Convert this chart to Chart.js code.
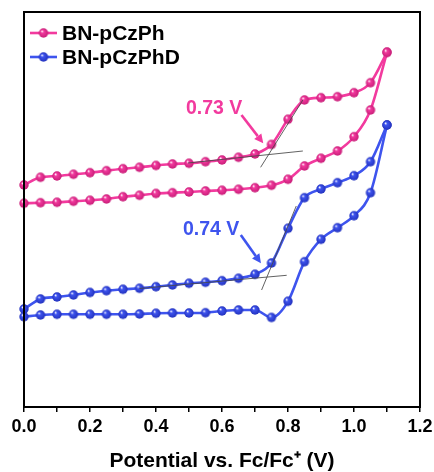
<!DOCTYPE html>
<html>
<head>
<meta charset="utf-8">
<script src="https://cdn.jsdelivr.net/npm/chart.js@4/dist/chart.umd.min.js"></script>
<style>
html,body{margin:0;padding:0;background:#fff;}
#wrap{width:434px;height:472px;position:relative;}
</style>
</head>
<body>
<div id="wrap"><canvas id="c" width="434" height="472"></canvas></div>
<script>
// ---- data (potential in V, current in arbitrary units) ----
const potentials = [0,0.05,0.1,0.15,0.2,0.25,0.3,0.35,0.4,0.45,0.5,0.55,0.6,0.65,0.7,0.75,0.8,0.85,0.9,0.95,1.0,1.05,1.1];
const pinkForward = [222,229.7,231,232.7,234.3,236.3,238.3,239.7,241.5,243,243.7,245.3,247,249.7,253,262.5,287.7,307,309.3,310.3,314.3,324.3,354.7];
const pinkReverse = [203.7,204.3,204.7,205.7,206.7,208,210.3,211.7,213.5,214.3,215,216,216.7,217.7,219.3,221.7,227.7,241,248.7,256,270.3,297,354.7];
const blueForward = [98,108,110,112,114.5,116.3,117.7,118.7,120.3,122,123.7,124.7,126.3,128.7,132.7,144,178.7,209.3,218,224.3,231.3,245.3,282];
const blueReverse = [90.3,92,92.7,92.7,92.7,92.7,92.7,93,93.7,94,94,94.3,96,97,97,89.5,105.7,145.3,167.7,179.3,191.3,214.3,282];
const seriesNames = ['BN-pCzPh','BN-pCzPhD'];
const xTickValues = [0,0.2,0.4,0.6,0.8,1.0,1.2];
const onsetLabels = ['0.73 V','0.74 V'];
// annotation anchors in data units: [x, y]
const onsetTextPos = [[0.576,298],[0.567,177.5]];
const arrowFrom = [[0.659,292],[0.657,172]];
const arrowTo = [[0.725,263.7],[0.718,143.7]];
const baseTangent = [[[0.497,244],[0.845,256]],[[0.35,118.5],[0.796,131.7]]];
const steepTangent = [[[0.717,239.7],[0.845,307]],[[0.72,117],[0.825,201]]];

const PINK = 'rgb(242,58,158)';
const BLUE = 'rgb(62,84,238)';
const colors = [PINK, BLUE];

function sphere(color, dark, r){
  const s = Math.ceil(2*r+2);
  const cv = document.createElement('canvas');
  cv.width = s; cv.height = s;
  const g = cv.getContext('2d');
  const c = s/2;
  const grad = g.createRadialGradient(c-r*0.35, c-r*0.4, 0.2, c, c, r);
  grad.addColorStop(0, '#ffffff');
  grad.addColorStop(0.3, color);
  grad.addColorStop(1, dark);
  g.fillStyle = grad;
  g.beginPath(); g.arc(c, c, r, 0, Math.PI*2); g.fill();
  return cv;
}
const pinkBall = sphere(PINK, 'rgb(200,30,120)', 4.7);
const blueBall = sphere(BLUE, 'rgb(35,50,190)', 4.7);
const balls = [pinkBall, blueBall];

function toPts(arr){ return potentials.map((x,i)=>({x:x, y:arr[i]})); }
function ds(arr, color, ball){
  return {
    data: toPts(arr),
    borderColor: color,
    borderWidth: 2.6,
    cubicInterpolationMode: 'monotone',
    pointStyle: ball,
    pointRadius: 4.7,
    pointHoverRadius: 4.7,
    fill: false,
    clip: false
  };
}

const FONT = '"Liberation Sans", Arial, sans-serif';

const frameAndNotes = {
  id: 'frameAndNotes',
  afterDatasetsDraw(chart){
    const ctx = chart.ctx;
    const xs = chart.scales.x, ys = chart.scales.y;
    const P = p => [xs.getPixelForValue(p[0]), ys.getPixelForValue(p[1])];
    ctx.save();
    // tangent lines
    ctx.strokeStyle = 'rgba(70,70,70,0.85)';
    ctx.lineWidth = 1;
    [baseTangent, steepTangent].forEach(set => set.forEach(seg => {
      const a = P(seg[0]), b = P(seg[1]);
      ctx.beginPath(); ctx.moveTo(a[0],a[1]); ctx.lineTo(b[0],b[1]); ctx.stroke();
    }));
    // arrows + labels
    for (let i=0;i<2;i++){
      const a = P(arrowFrom[i]), b = P(arrowTo[i]);
      const ang = Math.atan2(b[1]-a[1], b[0]-a[0]);
      const hl = 9, hw = 4.5;
      const bx = b[0]-hl*Math.cos(ang), by = b[1]-hl*Math.sin(ang);
      ctx.strokeStyle = colors[i]; ctx.fillStyle = colors[i];
      ctx.lineWidth = 2.6;
      ctx.beginPath(); ctx.moveTo(a[0],a[1]); ctx.lineTo(bx,by); ctx.stroke();
      ctx.beginPath();
      ctx.moveTo(b[0],b[1]);
      ctx.lineTo(bx + hw*Math.sin(ang), by - hw*Math.cos(ang));
      ctx.lineTo(bx - hw*Math.sin(ang), by + hw*Math.cos(ang));
      ctx.closePath(); ctx.fill();
      const t = P(onsetTextPos[i]);
      ctx.font = 'bold 19.5px ' + FONT;
      ctx.textAlign = 'center'; ctx.textBaseline = 'middle';
      ctx.fillText(onsetLabels[i], t[0], t[1]);
    }
    // legend
    const ca = chart.chartArea;
    for (let i=0;i<2;i++){
      const y = ca.top + 21 + i*24;
      const x0 = ca.left + 6;
      ctx.strokeStyle = colors[i]; ctx.lineWidth = 2.6;
      ctx.beginPath(); ctx.moveTo(x0,y); ctx.lineTo(x0+27,y); ctx.stroke();
      ctx.drawImage(balls[i], x0+13.5-balls[i].width/2, y-balls[i].height/2);
      ctx.fillStyle = '#000';
      ctx.font = 'bold 21px ' + FONT;
      ctx.textAlign = 'left'; ctx.textBaseline = 'middle';
      ctx.fillText(seriesNames[i], x0+32, y+1);
    }
    // frame
    ctx.strokeStyle = '#000'; ctx.lineWidth = 2;
    ctx.strokeRect(ca.left, ca.top, ca.right-ca.left, ca.bottom-ca.top);
    ctx.restore();
  }
};

new Chart(document.getElementById('c'), {
  type: 'line',
  data: {
    datasets: [
      ds(pinkForward, PINK, pinkBall),
      ds(pinkReverse, PINK, pinkBall),
      ds(blueForward, BLUE, blueBall),
      ds(blueReverse, BLUE, blueBall)
    ]
  },
  options: {
    responsive: false,
    animation: false,
    events: [],
    layout: { padding: { left: 24, right: 14, top: 12, bottom: 0 } },
    plugins: { legend: { display: false }, tooltip: { enabled: false } },
    scales: {
      x: {
        type: 'linear', min: 0, max: 1.2,
        afterBuildTicks(scale){
          const t = [];
          for (let k=0;k<=12;k++) t.push({value: k/10});
          scale.ticks = t;
        },
        afterFit(scale){
          scale.height = 65;
          scale.paddingLeft = 0;
          scale.paddingRight = 0;
        },
        ticks: {
          autoSkip: false, maxRotation: 0, padding: 4,
          color: '#000',
          font: { family: FONT, size: 18, weight: 'bold' },
          callback(v){
            const k = Math.round(v*10);
            const hit = xTickValues.find(t => Math.round(t*10) === k);
            return hit !== undefined ? hit.toFixed(1) : '';
          }
        },
        grid: { drawOnChartArea: false, drawTicks: true, tickLength: 5, color: '#000', lineWidth: 1.5 },
        border: { display: true, color: '#000', width: 2 },
        title: {
          display: true, text: 'Potential vs. Fc/Fc\u207A (V)', color: '#000',
          font: { family: FONT, size: 21, weight: 'bold', lineHeight: 1.05 },
          padding: { top: 4, bottom: 0 }
        }
      },
      y: { type: 'linear', display: false, min: 0, max: 395 }
    }
  },
  plugins: [frameAndNotes]
});
</script>
</body>
</html>
